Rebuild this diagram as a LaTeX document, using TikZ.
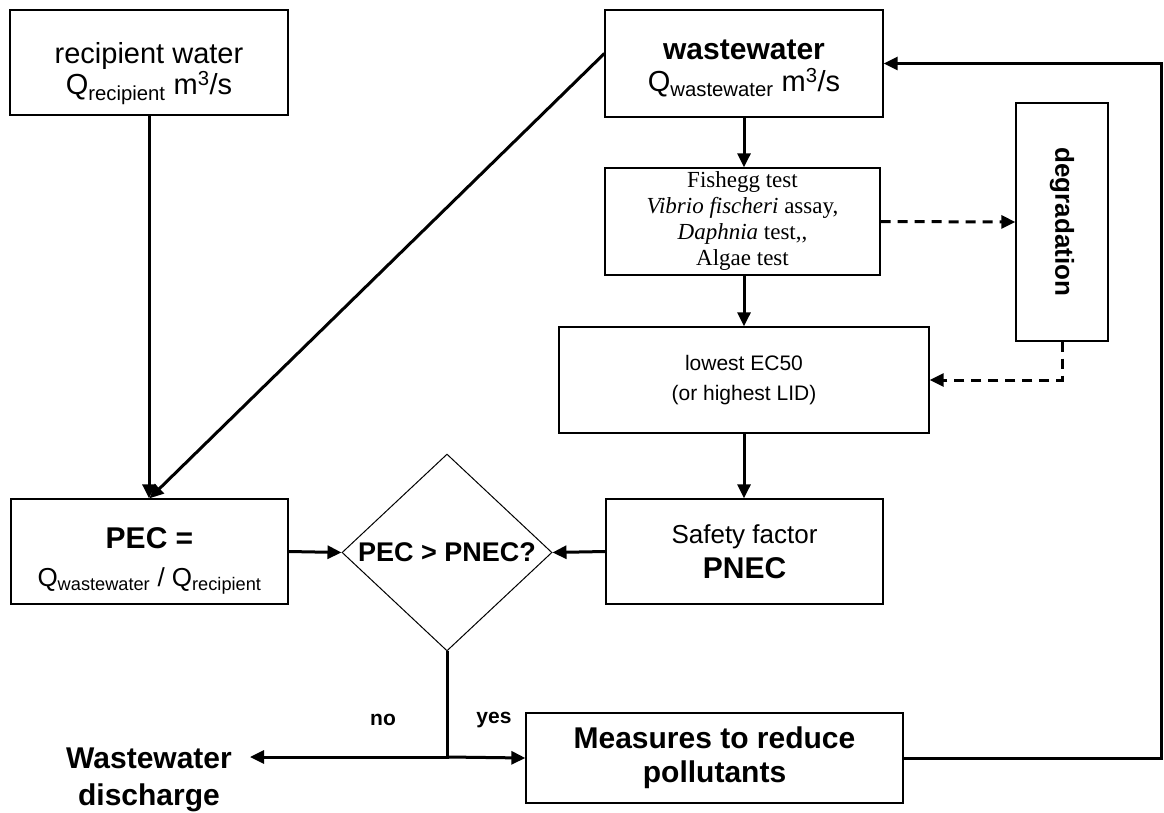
\documentclass[tikz,border=0pt]{standalone}
\usepackage{fontspec}
\setmainfont{Liberation Sans}
\newfontfamily\timesfont{Liberation Serif}
\usetikzlibrary{arrows.meta,positioning,shapes.geometric}
\newcommand{\fsz}[2]{\fontsize{#1pt}{#2pt}\selectfont}
\tikzset{
    %Define standard arrow tip
    >={Triangle[length=14pt,width=13pt]},
    %Define style for boxes
    kasse/.style={
           rectangle,
           draw=black, line width=1.3pt,
           inner sep=0pt,
           align=center},
    raute/.style={
           diamond,
           draw=black, line width=1pt,
           inner sep=0pt,
           minimum width=210pt,
           minimum height=191pt,
           align=center},
    % Define arrow styles
    linje/.style={line width=3pt},
    pil/.style={->, linje},
    pilstiplet/.style={->, linje, dash pattern=on 10pt off 7pt}
}
\begin{document}
\begin{tikzpicture}[x=1pt,y=-1pt]
\useasboundingbox (0,0) rectangle (1164,813);

 %nodes
\node[kasse, minimum width=278pt, minimum height=105pt, font=\fsz{29}{31}] (rec) at (149,62.5)
  {\rule{0pt}{44pt}recipient water\\Q\textsubscript{recipient} m\textsuperscript{3}/s};
\node[kasse, minimum width=278pt, minimum height=107pt, font=\fsz{29}{32}] (ww) at (744,63.5)
  {\rule{0pt}{30pt}\textbf{\fsz{30}{32}wastewater}\\Q\textsubscript{wastewater} m\textsuperscript{3}/s};
\node[kasse, minimum width=275pt, minimum height=107pt, font=\timesfont\fsz{23}{26}] (fish) at (742.5,221.5)
  {Fishegg test\\\textit{Vibrio fischeri} assay,\\\textit{Daphnia} test,,\\Algae test};
\node[kasse, minimum width=92pt, minimum height=238pt] (deg) at (1062,222) {};
\node[rotate=-90, font=\bfseries\fsz{26}{30}] (degtxt) at (deg) {degradation};
\node[kasse, minimum width=370pt, minimum height=106pt, font=\fsz{21}{30}] (ec) at (744,380)
  {lowest EC50\\(or highest LID)};
\node[kasse, minimum width=277pt, minimum height=105pt, font=\fsz{26}{35}] (saf) at (744.5,551.5)
  {Safety factor\\\textbf{\fsz{30}{35}PNEC}};
\node[kasse, minimum width=277pt, minimum height=105pt, font=\fsz{26}{38}] (pec) at (149.5,551.5)
  {\rule{0pt}{40pt}\textbf{\fsz{30}{38}PEC =}\\Q\textsubscript{wastewater} / Q\textsubscript{recipient}};
\node[raute, font=\bfseries\fsz{27}{30}] (dec) at (447,552.5) {PEC > PNEC?};
\node[kasse, minimum width=377pt, minimum height=90pt, font=\bfseries\fsz{30}{34}] (meas) at (714.5,758)
  {Measures to reduce\\pollutants};
\node[font=\bfseries\fsz{30}{37}, align=center] (wd) at (149,780) {Wastewater\\discharge};
\node[font=\bfseries\fsz{21}{24}] (lno) at (383,720) {no};
\node[font=\bfseries\fsz{21}{24}] (lyes) at (494,720) {yes};

\coordinate (jn) at (447,757);
\coordinate (wdin) at (250,757);
\coordinate (back) at (1161,400);

 %connectors
\draw[pil] (rec.south) -- (rec.south |- pec.north);
\draw[pil] ([yshift=10pt]ww.west) -- (pec.north);
\draw[pil] (ww.south) -- (ww.south |- fish.north);
\draw[pil] (ww.south |- fish.south) -- (ww.south |- ec.north);
\draw[pilstiplet] (fish.east) -- (deg.west);
\draw[pilstiplet] (deg.south) |- (ec.east);
\draw[pil] (ww.south |- ec.south) -- (ww.south |- saf.north);
\draw[pil] (saf.west) -- (dec.east);
\draw[pil] (pec.east) -- (dec.west);
\draw[linje] (dec.south) -- ([yshift=-1.5pt]jn);
\draw[pil] (jn) -- (meas.west);
\draw[pil] (jn) -- (wdin);
\draw[pil] (meas.east) -| (back) |- (ww.east);

\end{tikzpicture}
\end{document}
